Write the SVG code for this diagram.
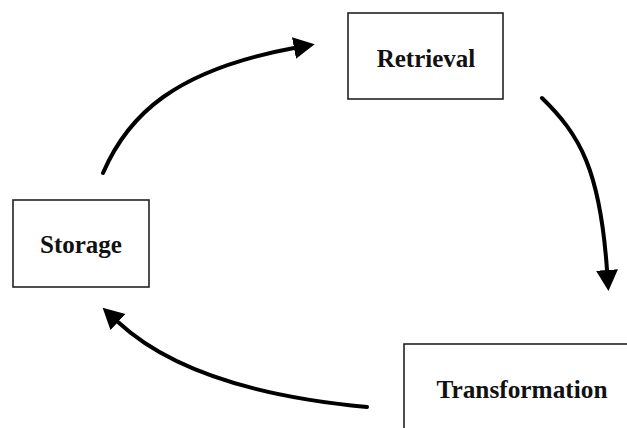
<svg xmlns="http://www.w3.org/2000/svg" width="627" height="428" viewBox="0 0 627 428">
  <style>
    .box { fill: #ffffff; stroke: #222222; stroke-width: 1.6; }
    .label { font-family: "Liberation Serif", "Times New Roman", serif; font-weight: bold; font-size: 25px; fill: #111111; text-anchor: middle; }
    .flow { fill: none; stroke: #000000; stroke-width: 4; stroke-linecap: round; }
  </style>
  <defs>
    <marker id="head" markerUnits="userSpaceOnUse" markerWidth="24" markerHeight="24" refX="0" refY="11" orient="auto">
      <path d="M0,0 L21,11 L0,22 Z" fill="#000000"/>
    </marker>
  </defs>
  <rect width="627" height="428" fill="#ffffff"/>

  <g id="retrieval">
    <rect class="box" x="348" y="13" width="155" height="86"/>
    <text class="label" x="426" y="67">Retrieval</text>
  </g>

  <g id="storage">
    <rect class="box" x="13" y="200" width="136" height="87"/>
    <text class="label" x="81" y="253">Storage</text>
  </g>

  <g id="transformation">
    <rect class="box" x="404" y="344" width="240" height="100"/>
    <text class="label" x="522" y="398" font-size="23.5" textLength="171" lengthAdjust="spacingAndGlyphs">Transformation</text>
  </g>

  <g id="connectors">
    <path class="flow" d="M103,173 C128,115 175,70 294,48" marker-end="url(#head)"/>
    <path class="flow" d="M542,98 C580,135 600,170 607,270" marker-end="url(#head)"/>
    <path class="flow" d="M367,407 C270,398 175,375 118,322" marker-end="url(#head)"/>
  </g>
</svg>
